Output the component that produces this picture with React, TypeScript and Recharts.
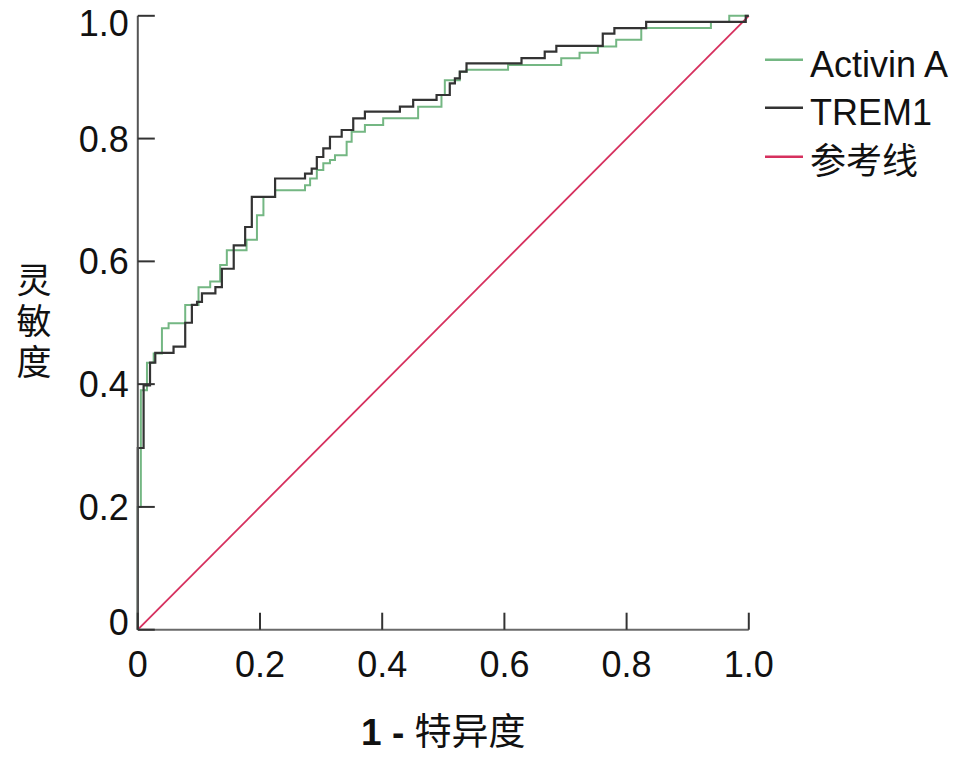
import { Line, LineChart, XAxis, YAxis } from "recharts";

// ROC corner points: at each fpr the curve steps up to tpr
const activinFpr = [0, 0, 0.005, 0.015, 0.026, 0.0395, 0.0504, 0.0776, 0.0994, 0.1185, 0.1348, 0.1457, 0.178, 0.195, 0.2056, 0.2247, 0.2737, 0.282, 0.293, 0.3036, 0.3145, 0.3227, 0.3418, 0.35, 0.3717, 0.4016, 0.4588, 0.497, 0.5025, 0.527, 0.538, 0.606, 0.693, 0.723, 0.753, 0.783, 0.824, 0.938, 0.968, 1];
const activinTpr = [0, 0.2, 0.39, 0.435, 0.45, 0.491, 0.499, 0.529, 0.558, 0.567, 0.594, 0.618, 0.635, 0.675, 0.705, 0.716, 0.724, 0.735, 0.749, 0.76, 0.765, 0.773, 0.795, 0.811, 0.822, 0.833, 0.852, 0.871, 0.895, 0.909, 0.912, 0.92, 0.931, 0.94, 0.95, 0.961, 0.98, 0.99, 1, 1];

const tremFpr = [0, 0, 0.0095, 0.02, 0.0286, 0.0585, 0.0776, 0.0885, 0.097, 0.105, 0.127, 0.1376, 0.157, 0.1757, 0.1866, 0.2247, 0.2737, 0.2846, 0.293, 0.3036, 0.3145, 0.3337, 0.3526, 0.3717, 0.429, 0.4507, 0.489, 0.5106, 0.519, 0.527, 0.538, 0.628, 0.666, 0.685, 0.761, 0.78, 0.832, 0.995, 1];
const tremTpr = [0, 0.296, 0.398, 0.435, 0.451, 0.461, 0.5, 0.529, 0.534, 0.548, 0.558, 0.588, 0.626, 0.656, 0.705, 0.735, 0.743, 0.751, 0.77, 0.784, 0.803, 0.814, 0.833, 0.844, 0.852, 0.863, 0.871, 0.89, 0.898, 0.909, 0.9226, 0.931, 0.9415, 0.951, 0.971, 0.98, 0.99, 1, 1];

const refFpr = [0, 1];
const refTpr = [0, 1];

const axisTicks = [0, 0.2, 0.4, 0.6, 0.8, 1];
const tickLabels = ["0", "0.2", "0.4", "0.6", "0.8", "1.0"];

const seriesNames = ["Activin A", "TREM1", "参考线"];
const seriesColors = ["#74b783", "#333333", "#d6305e"];

const FONT = "'Liberation Sans', Arial, 'Noto Sans CJK SC', sans-serif";

function toPoints(xs: number[], ys: number[]) {
  return xs.map((x, i) => ({ fpr: x, tpr: ys[i] }));
}

const activinData = toPoints(activinFpr, activinTpr);
const tremData = toPoints(tremFpr, tremTpr);
const refData = toPoints(refFpr, refTpr);

function XTick(props: any) {
  const { x, y, payload } = props;
  const i = axisTicks.indexOf(payload.value);
  return (
    <g>
      <line x1={x} y1={y - 20} x2={x} y2={y - 37} stroke="#333" strokeWidth={2} />
      <text x={x} y={y + 27} textAnchor="middle" fontSize={36} fontFamily={FONT} fill="#111">
        {tickLabels[i]}
      </text>
    </g>
  );
}

function YTick(props: any) {
  const { x, y, payload } = props;
  const i = axisTicks.indexOf(payload.value);
  const shift = payload.value === 1 ? 7 : payload.value === 0 ? -8 : 0;
  return (
    <g>
      <line x1={x + 8} y1={y} x2={x + 25} y2={y} stroke="#333" strokeWidth={2} />
      <text x={x - 1} y={y + 13 + shift} textAnchor="end" fontSize={36} fontFamily={FONT} fill="#111">
        {tickLabels[i]}
      </text>
    </g>
  );
}

function YLabel() {
  const chars = "灵敏度".split("");
  return (
    <text x={34} textAnchor="middle" fontSize={35} fontFamily={FONT} fill="#111">
      {chars.map((c, i) => (
        <tspan key={c} x={34} y={293 + i * 41}>
          {c}
        </tspan>
      ))}
    </text>
  );
}

function XLabel(props: any) {
  const { viewBox } = props;
  const cx = viewBox.x + viewBox.width / 2;
  return (
    <text x={cx} y={745} textAnchor="middle" fontSize={37} fontFamily={FONT} fill="#111">
      <tspan fontWeight="bold">1 -</tspan>
      <tspan> 特异度</tspan>
    </text>
  );
}

function LegendBox() {
  return (
    <div style={{ position: "absolute", left: 765, top: 40.5, fontFamily: FONT, fontSize: 36, color: "#111" }}>
      {seriesNames.map((name, i) => (
        <div key={name} style={{ height: 48.7, lineHeight: "48.7px", display: "flex", alignItems: "flex-start", whiteSpace: "nowrap" }}>
          <svg width={45} height={48.7} style={{ flex: "none" }}>
            <line x1={0} y1={18.8} x2={38} y2={18.8} stroke={seriesColors[i]} strokeWidth={2.5} />
          </svg>
          <span>{name}</span>
        </div>
      ))}
    </div>
  );
}

export default function App() {
  return (
    <div style={{ position: "absolute", left: 0, top: 0, width: 972, height: 762, background: "#fff" }}>
      <LineChart width={972} height={762} margin={{ top: 15.8, right: 223.2, bottom: 72.3, left: 0 }}>
        <XAxis
          type="number"
          dataKey="fpr"
          domain={[0, 1]}
          ticks={axisTicks}
          height={60}
          tickSize={0}
          tickMargin={20}
          tickLine={false}
          axisLine={{ stroke: "#6a6a6a", strokeWidth: 2 }}
          tick={<XTick />}
          label={<XLabel />}
          interval={0}
        />
        <YAxis
          type="number"
          dataKey="tpr"
          domain={[0, 1]}
          ticks={axisTicks}
          width={137.8}
          tickSize={0}
          tickMargin={8}
          tickLine={false}
          axisLine={{ stroke: "#555", strokeWidth: 2 }}
          tick={<YTick />}
          label={<YLabel />}
          interval={0}
        />
        <Line data={refData} dataKey="tpr" type="linear" stroke={seriesColors[2]} strokeWidth={1.8} dot={false} isAnimationActive={false} />
        <Line data={activinData} dataKey="tpr" type="stepAfter" stroke={seriesColors[0]} strokeWidth={2} dot={false} isAnimationActive={false} />
        <Line data={tremData} dataKey="tpr" type="stepAfter" stroke={seriesColors[1]} strokeWidth={2.2} dot={false} isAnimationActive={false} />
      </LineChart>
      <LegendBox />
    </div>
  );
}
